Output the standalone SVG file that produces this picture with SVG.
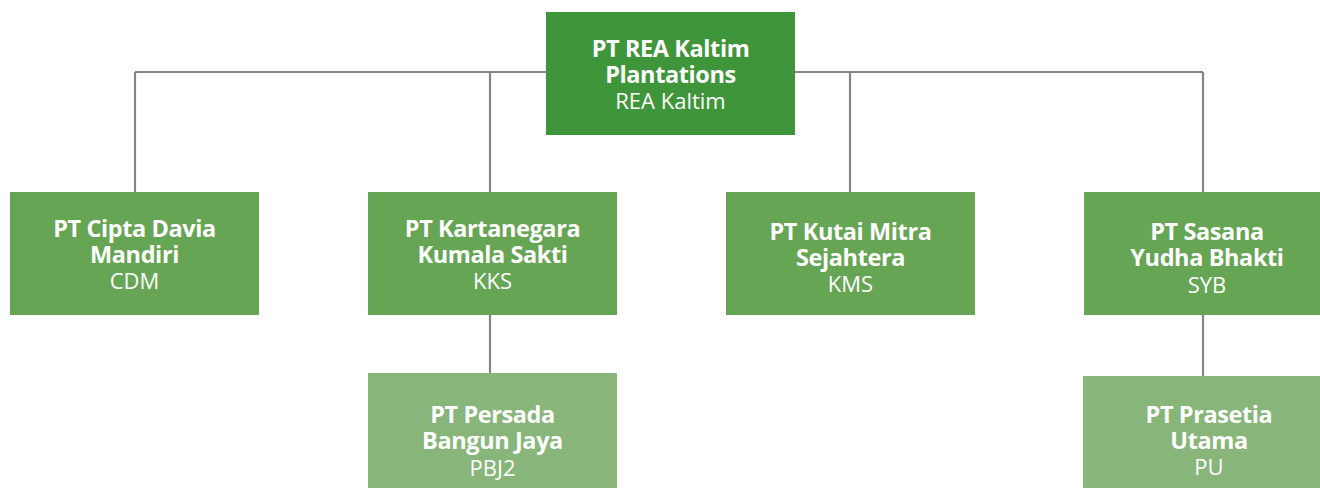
<svg xmlns="http://www.w3.org/2000/svg" width="1320" height="488" viewBox="0 0 1320 488">
<style>
.l1{fill:#3f953a}
.l2{fill:#66a554}
.l3{fill:#88b57a}
.b{font-family:"Open Sans","Noto Sans","Liberation Sans",sans-serif;font-weight:700;font-size:23.5px;fill:#fff;text-anchor:middle;letter-spacing:-0.4px}
.r{font-family:"Open Sans","Noto Sans","Liberation Sans",sans-serif;font-weight:400;font-size:22px;fill:#fff;text-anchor:middle}
.c{stroke:#858589;stroke-width:2.2;fill:none}
</style>
<rect width="1320" height="488" fill="#fff"/>
<g id="connectors">
<path class="c" d="M135 72H1203M135 72V192M490 72V192M850 72V192M1203 72V192M490 315V373M1203 315V376"/>
</g>
<g id="n-rea">
<rect class="l1" x="546" y="12" width="249" height="123"/>
<text class="b" x="670.5" y="57">PT REA Kaltim</text>
<text class="b" x="670.5" y="83">Plantations</text>
<text class="r" x="670.5" y="109">REA Kaltim</text>
</g>
<g id="n-cdm">
<rect class="l2" x="10" y="192" width="249" height="123"/>
<text class="b" x="134.5" y="237">PT Cipta Davia</text>
<text class="b" x="134.5" y="263">Mandiri</text>
<text class="r" x="134.5" y="289">CDM</text>
</g>
<g id="n-kks">
<rect class="l2" x="368" y="192" width="249" height="123"/>
<text class="b" x="492.5" y="237">PT Kartanegara</text>
<text class="b" x="492.5" y="263">Kumala Sakti</text>
<text class="r" x="492.5" y="289">KKS</text>
</g>
<g id="n-kms">
<rect class="l2" x="726" y="192" width="249" height="123"/>
<text class="b" x="850.5" y="240">PT Kutai Mitra</text>
<text class="b" x="850.5" y="266">Sejahtera</text>
<text class="r" x="850.5" y="292">KMS</text>
</g>
<g id="n-syb">
<rect class="l2" x="1084" y="192" width="249" height="123"/>
<text class="b" x="1207" y="240">PT Sasana</text>
<text class="b" x="1207" y="266">Yudha Bhakti</text>
<text class="r" x="1207" y="293">SYB</text>
</g>
<g id="n-pbj2">
<rect class="l3" x="368" y="373" width="249" height="123"/>
<text class="b" x="492.5" y="423">PT Persada</text>
<text class="b" x="492.5" y="449">Bangun Jaya</text>
<text class="r" x="492.5" y="476">PBJ2</text>
</g>
<g id="n-pu">
<rect class="l3" x="1083" y="376" width="249" height="123"/>
<text class="b" x="1209" y="423">PT Prasetia</text>
<text class="b" x="1209" y="449">Utama</text>
<text class="r" x="1209" y="475">PU</text>
</g>
</svg>
